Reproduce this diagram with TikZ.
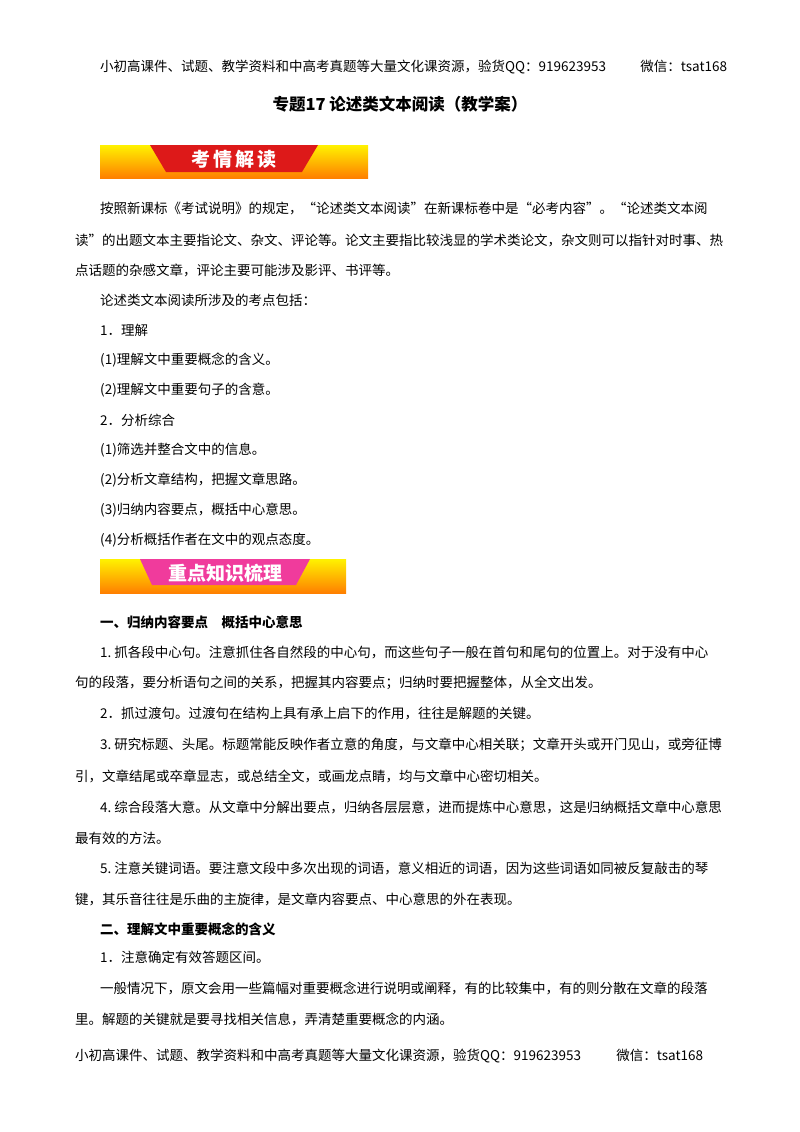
\documentclass[tikz,border=0pt]{standalone}
\usepackage{fontspec}
\setmainfont{Noto Sans CJK SC}
\XeTeXlinebreaklocale "zh"
\XeTeXlinebreakskip=0pt plus 2pt
\begin{document}
\begin{tikzpicture}[x=1pt,y=-1pt,
  ln/.style={anchor=west,inner sep=0pt,font=\fontsize{13.5}{14}\selectfont},
  bn/.style={font=\fontsize{19}{20}\selectfont\bfseries,text=white,inner sep=0pt}]
\useasboundingbox (0,0) rectangle (800,1132);
\newcommand{\FL}[1]{\makebox[660pt][s]{#1}}
\newcommand{\IL}[1]{\makebox[635pt][s]{#1}}
\newcommand{\NB}[1]{#1\hbox{\hspace{3pt}}}
\node[ln] (h) at (100,67) {\makebox[627pt][s]{小初高课件、试题、教学资料和中高考真题等大量文化课资源，验货QQ：919623953\hspace{18pt plus 6pt}微信：tsat168}};
\node[font=\fontsize{16.5}{17}\selectfont\bfseries,inner sep=0pt] (t) at (400,104) {专题17\ 论述类文本阅读（教学案）};
% banner 1
\shade[top color=yellow!90!orange,bottom color=orange] (100,145) rectangle (368,178);
\fill[red!85!black!90] (150,145) -- (318,145) -- (302,172) -- (166,172) -- cycle;
\node[bn] (b1) at (234,159) {考\,情\,解\,读};
% banner 2
\shade[top color=yellow!90!orange,bottom color=orange] (100,559) rectangle (346,593);
\fill[magenta!70!pink] (140,559) -- (310,559) -- (296,585) -- (152,585) -- cycle;
\node[bn] (b2) at (225,573) {重点知识梳理};
% section 1
\node[ln] (l1) at (100,209) {\IL{按照新课标《考试说明》的规定，“论述类文本阅读”在新课标卷中是“必考内容”。“论述类文本阅}};
\node[ln] (l2) at (75,240) {\FL{读”的出题文本主要指论文、杂文、评论等。论文主要指比较浅显的学术类论文，杂文则可以指针对时事、热}};
\node[ln] (l3) at (75,270) {点话题的杂感文章，评论主要可能涉及影评、书评等。};
\node[ln] (l4) at (100,300) {论述类文本阅读所涉及的考点包括：};
\node[ln] (l5) at (100,330) {1．理解};
\node[ln] (l6) at (100,360) {(1)理解文中重要概念的含义。};
\node[ln] (l7) at (100,390) {(2)理解文中重要句子的含意。};
\node[ln] (l8) at (100,420) {2．分析综合};
\node[ln] (l9) at (100,450) {(1)筛选并整合文中的信息。};
\node[ln] (l10) at (100,480) {(2)分析文章结构，把握文章思路。};
\node[ln] (l11) at (100,510) {(3)归纳内容要点，概括中心意思。};
\node[ln] (l12) at (100,540) {(4)分析概括作者在文中的观点态度。};
% section 2
\node[ln,font=\fontsize{13.5}{14}\selectfont\bfseries] (s1) at (100,622) {一、归纳内容要点\quad 概括中心意思};
\node[ln] (m1) at (100,652) {\IL{\NB{1.}抓各段中心句。注意抓住各自然段的中心句，而这些句子一般在首句和尾句的位置上。对于没有中心}};
\node[ln] (m2) at (75,683) {句的段落，要分析语句之间的关系，把握其内容要点；归纳时要把握整体，从全文出发。};
\node[ln] (m3) at (100,714) {2．抓过渡句。过渡句在结构上具有承上启下的作用，往往是解题的关键。};
\node[ln] (m4) at (100,745) {\IL{\NB{3.}研究标题、头尾。标题常能反映作者立意的角度，与文章中心相关联；文章开头或开门见山，或旁征博}};
\node[ln] (m5) at (75,776) {引，文章结尾或卒章显志，或总结全文，或画龙点睛，均与文章中心密切相关。};
\node[ln] (m6) at (100,807) {\IL{\NB{4.}综合段落大意。从文章中分解出要点，归纳各层层意，进而提炼中心意思，这是归纳概括文章中心意思}};
\node[ln] (m7) at (75,838) {最有效的方法。};
\node[ln] (m8) at (100,868) {\IL{\NB{5.}注意关键词语。要注意文段中多次出现的词语，意义相近的词语，因为这些词语如同被反复敲击的琴}};
\node[ln] (m9) at (75,899) {键，其乐音往往是乐曲的主旋律，是文章内容要点、中心意思的外在表现。};
\node[ln,font=\fontsize{13.5}{14}\selectfont\bfseries] (s2) at (100,929) {二、理解文中重要概念的含义};
\node[ln] (m10) at (100,957) {1．注意确定有效答题区间。};
\node[ln] (m11) at (100,988) {\IL{一般情况下，原文会用一些篇幅对重要概念进行说明或阐释，有的比较集中，有的则分散在文章的段落}};
\node[ln] (m12) at (75,1019) {里。解题的关键就是要寻找相关信息，弄清楚重要概念的内涵。};
\node[ln] (f) at (75,1056) {\makebox[628pt][s]{小初高课件、试题、教学资料和中高考真题等大量文化课资源，验货QQ：919623953\hspace{18pt plus 6pt}微信：tsat168}};
\end{tikzpicture}
\end{document}
